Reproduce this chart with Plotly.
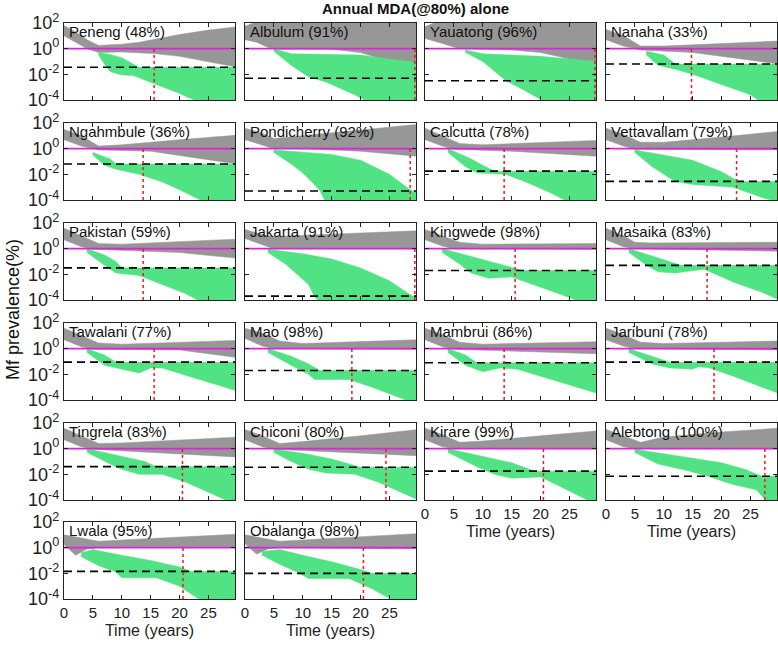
import plotly.graph_objects as go

SITES = ["Peneng", "Albulum", "Yauatong", "Nanaha", "Ngahmbule", "Pondicherry",
         "Calcutta", "Vettavallam", "Pakistan", "Jakarta", "Kingwede", "Masaika",
         "Tawalani", "Mao", "Mambrui", "Jaribuni", "Tingrela", "Chiconi", "Kirare",
         "Alebtong", "Lwala", "Obalanga"]
COVERAGE = [48, 91, 96, 33, 36, 92, 78, 79, 59, 91, 98, 83, 77, 98, 86, 78, 83, 80,
            99, 100, 95, 98]
# log10 of the elimination threshold (dashed line)
THRESH_EXP = [-1.45, -2.3, -2.5, -1.2, -1.2, -3.3, -1.75, -2.55, -1.5, -3.7, -1.7, -1.3,
              -1.05, -1.7, -1.1, -1.05, -1.4, -1.45, -1.75, -2.15, -1.85, -2.0]
# year at which the threshold is reached (red dotted line)
STOP_YEAR = [15.6, 29.4, 29.4, 14.8, 13.7, 28.6, 13.7, 22.6, 13.7, 29.4, 15.6, 17.5,
             15.6, 18.5, 13.7, 18.7, 20.5, 24.4, 20.5, 27.5, 20.6, 20.5]
X_TICKS = [0, 5, 10, 15, 20, 25]
Y_TICKS = [1e-4, 1e-2, 1, 1e2]
Y_TICK_TEXT = ["10<sup>-4</sup>", "10<sup>-2</sup>", "10<sup>0</sup>", "10<sup>2</sup>"]

# envelopes (year, log10 Mf prevalence) of the non-eliminating (grey) runs
GREY_UP = [
    [(0, 1.8), (2, 1.3), (4, 0.7), (6, 0.25), (8, 0.3), (10, 0.35), (13, 0.5), (16, 0.75), (20, 1.1), (25, 1.45), (30, 1.7)],
    [(0, 1.75), (2, 2.1), (30, 2.1)],
    [(0, 1.7), (2, 2.1), (30, 2.1)],
    [(0, 1.5), (3, 1.0), (6, 0.2), (10, 0.2), (15, 0.3), (20, 0.4), (30, 0.6)],
    [(0, 1.5), (3, 1.0), (6, 0.2), (10, 0.3), (20, 0.7), (30, 1.05)],
    [(0, 1.6), (3, 1.2), (5, 0.8), (10, 1.0), (20, 1.45), (30, 1.9)],
    [(0, 1.6), (3, 1.0), (6, 0.4), (10, 0.3), (20, 0.45), (30, 0.65)],
    [(0, 1.6), (3, 1.1), (6, 0.5), (10, 0.5), (20, 0.9), (30, 1.35)],
    [(0, 1.6), (3, 1.0), (6, 0.4), (10, 0.35), (20, 0.55), (30, 0.75)],
    [(0, 1.5), (3, 1.1), (5, 0.95), (10, 1.05), (20, 1.25), (30, 1.4)],
    [(0, 1.5), (3, 1.0), (6, 0.5), (10, 0.35), (20, 0.35), (30, 0.4)],
    [(0, 1.6), (3, 1.0), (5, 0.5), (8, 0.45), (30, 0.5)],
    [(0, 1.6), (3, 1.0), (6, 0.45), (10, 0.35), (20, 0.5), (30, 0.65)],
    [(0, 1.6), (3, 1.2), (6, 0.6), (10, 0.4), (20, 0.55), (30, 0.7)],
    [(0, 1.6), (3, 1.1), (6, 0.5), (10, 0.35), (20, 0.45), (30, 0.55)],
    [(0, 1.6), (3, 1.1), (6, 0.5), (10, 0.4), (20, 0.5), (30, 0.6)],
    [(0, 1.6), (3, 1.0), (6, 0.4), (10, 0.45), (20, 0.7), (30, 0.9)],
    [(0, 1.5), (3, 1.0), (6, 0.4), (10, 0.55), (20, 1.0), (30, 1.5)],
    [(0, 1.6), (3, 1.1), (6, 0.5), (10, 0.6), (20, 1.0), (30, 1.4)],
    [(0, 1.5), (3, 1.0), (6, 0.5), (10, 0.9), (20, 1.3), (30, 1.6)],
    [(0, 1.0), (3, 0.75), (6, 0.5), (10, 0.6), (20, 0.85), (30, 1.05)],
    [(0, 1.0), (3, 0.75), (6, 0.5), (10, 0.6), (20, 0.85), (30, 1.1)],
]
GREY_LO = [
    [(0, 1.0), (2, 0.5), (4, 0.0), (6, -0.3), (10, -0.25), (13, -0.3), (16, -0.4), (20, -0.6), (25, -1.0), (30, -1.45)],
    [(0, 0.7), (2, 0.5), (4, 0.1), (6, -0.05), (15, -0.05), (20, -0.3), (25, -1.0), (30, -1.9)],
    [(0, 0.8), (3, 0.4), (6, 0.0), (15, -0.1), (20, -0.3), (25, -0.8), (30, -1.5)],
    [(0, 0.7), (3, 0.2), (6, -0.1), (15, -0.3), (20, -0.6), (30, -1.2)],
    [(0, 0.7), (3, 0.2), (6, -0.1), (15, -0.2), (30, -1.2)],
    [(0, 0.7), (3, 0.3), (5, 0.0), (10, 0.0), (20, -0.2), (30, -0.6)],
    [(0, 0.7), (3, 0.2), (5, -0.05), (15, -0.2), (30, -0.6)],
    [(0, 0.7), (3, 0.2), (5, -0.05), (30, -0.1)],
    [(0, 0.7), (3, 0.15), (5, -0.05), (20, -0.3), (30, -0.75)],
    [(0, 0.8), (3, 0.3), (5, 0.0), (30, 0.0)],
    [(0, 0.7), (3, 0.2), (5, 0.0), (30, -0.05)],
    [(0, 0.7), (3, 0.15), (5, 0.0), (30, -0.2)],
    [(0, 0.7), (3, 0.15), (5, -0.05), (20, -0.1), (30, -0.7)],
    [(0, 0.8), (3, 0.2), (5, 0.0), (30, -0.05)],
    [(0, 0.7), (3, 0.15), (5, -0.05), (30, -0.4)],
    [(0, 0.7), (3, 0.2), (5, 0.0), (30, -0.1)],
    [(0, 0.7), (3, 0.15), (5, -0.05), (30, -0.65)],
    [(0, 0.7), (3, 0.15), (5, -0.05), (30, -0.55)],
    [(0, 0.7), (3, 0.15), (5, 0.0), (30, 0.0)],
    [(0, 0.7), (3, 0.15), (5, 0.0), (30, 0.0)],
    [(0, 0.25), (2, -0.6), (4, -0.1), (6, 0.0), (30, 0.0)],
    [(0, 0.3), (2, -0.5), (4, -0.1), (6, 0.0), (30, -0.1)],
]
# envelopes of the eliminating (green) runs
GREEN_UP = [
    [(6, -0.3), (8, -0.45), (10, -0.7), (12, -1.2), (13, -1.45), (30, -1.45)],
    [(5, 0.0), (8, -0.4), (15, -0.45), (20, -0.5), (25, -0.8), (30, -1.1)],
    [(7, -0.1), (10, -0.4), (15, -0.5), (20, -0.6), (25, -0.8), (30, -1.0)],
    [(7, -0.2), (10, -0.5), (12, -1.2), (30, -1.2)],
    [(5, -0.3), (8, -0.8), (9, -1.2), (30, -1.2)],
    [(5, -0.1), (10, -0.3), (15, -0.45), (20, -0.9), (25, -2.0), (28, -3.0), (29, -3.3), (30, -3.3)],
    [(4, 0.0), (8, -0.8), (10, -1.3), (12, -1.75), (30, -1.75)],
    [(5, -0.1), (10, -0.5), (15, -0.9), (20, -1.8), (23, -2.55), (30, -2.55)],
    [(4, 0.0), (7, -0.5), (9, -1.0), (10, -1.5), (30, -1.5)],
    [(4, -0.05), (10, -0.4), (15, -0.8), (20, -1.5), (25, -2.5), (29, -3.7), (30, -3.7)],
    [(3, 0.0), (8, -0.6), (12, -1.1), (15, -1.5), (17, -1.7), (30, -1.7)],
    [(4, 0.0), (8, -0.6), (11, -1.0), (13, -1.3), (30, -1.3)],
    [(4, 0.0), (7, -0.5), (9, -1.05), (30, -1.05)],
    [(4, 0.0), (8, -0.6), (11, -1.2), (13, -1.7), (30, -1.7)],
    [(4, 0.0), (7, -0.5), (9, -1.1), (30, -1.1)],
    [(4, 0.0), (8, -0.6), (11, -1.05), (30, -1.05)],
    [(4, 0.0), (10, -0.6), (14, -1.0), (16, -1.4), (30, -1.4)],
    [(5, -0.05), (10, -0.35), (15, -0.8), (18, -1.2), (20, -1.45), (30, -1.45)],
    [(4, 0.0), (10, -0.6), (15, -1.1), (19, -1.75), (30, -1.75)],
    [(5, -0.05), (10, -0.4), (15, -0.8), (20, -1.1), (24, -1.6), (27, -2.15), (30, -2.15)],
    [(3, -0.4), (5, -0.15), (10, -0.6), (15, -1.0), (20, -1.5), (22, -1.85), (30, -1.85)],
    [(3, -0.3), (6, -0.15), (10, -0.6), (15, -1.1), (20, -1.7), (22, -2.0), (30, -2.0)],
]
GREEN_LO = [
    [(6, -0.5), (7, -1.2), (8, -1.8), (10, -2.05), (12, -2.1), (16, -2.8), (20, -3.5), (23.5, -4.2), (30, -4.2)],
    [(5, -0.2), (8, -1.3), (11, -2.2), (14, -2.6), (19, -3.6), (21.5, -4.2), (30, -4.2)],
    [(7, -0.3), (10, -1.0), (14, -2.5), (17, -3.2), (21, -4.2), (30, -4.2)],
    [(7, -0.5), (9, -1.3), (12, -1.6), (15, -2.0), (20, -2.8), (25, -3.6), (27, -4.2), (30, -4.2)],
    [(5, -0.5), (7, -1.3), (9, -1.6), (13, -2.0), (17, -2.6), (20, -3.2), (24.5, -4.2), (30, -4.2)],
    [(5, -0.3), (8, -1.2), (10, -1.9), (12, -2.8), (13, -3.3), (14, -4.2), (30, -4.2)],
    [(4, -0.3), (7, -1.4), (9, -1.9), (14, -2.0), (18, -2.7), (22, -3.5), (25, -4.2), (30, -4.2)],
    [(5, -0.3), (8, -1.4), (10, -2.0), (12, -2.55), (15, -2.8), (22, -3.0), (27, -3.8), (30, -4.2)],
    [(4, -0.3), (7, -1.3), (9, -1.9), (13, -2.1), (17, -2.8), (21, -3.5), (24, -4.2), (30, -4.2)],
    [(4, -0.3), (7, -1.2), (9, -2.0), (11, -2.8), (12, -3.7), (13, -4.2), (30, -4.2)],
    [(3, -0.3), (6, -1.2), (8, -1.9), (11, -2.3), (15, -2.2), (20, -3.0), (25, -3.8), (27, -4.2), (30, -4.2)],
    [(4, -0.3), (7, -1.3), (9, -1.8), (12, -1.9), (15, -1.7), (17, -1.6), (22, -2.6), (27, -3.4), (30, -4.0)],
    [(4, -0.3), (7, -1.3), (10, -1.6), (13, -1.9), (15, -1.5), (17, -1.5), (22, -2.2), (27, -2.9), (30, -3.3)],
    [(4, -0.3), (8, -1.3), (11, -2.0), (12, -2.4), (18, -2.4), (22, -3.0), (26, -3.7), (29, -4.2), (30, -4.2)],
    [(4, -0.3), (7, -1.3), (10, -1.8), (13, -1.5), (16, -1.6), (22, -2.4), (27, -3.1), (30, -3.5)],
    [(4, -0.3), (8, -1.2), (11, -1.5), (15, -1.6), (16, -1.4), (18, -1.5), (23, -2.3), (27, -3.0), (30, -3.5)],
    [(4, -0.3), (8, -1.2), (10, -1.6), (13, -2.0), (17, -2.0), (21, -2.6), (25, -3.4), (29, -4.2), (30, -4.2)],
    [(5, -0.3), (8, -1.0), (11, -1.6), (14, -1.9), (19, -2.0), (23, -2.6), (27, -3.4), (30, -4.0)],
    [(4, -0.3), (9, -1.4), (12, -2.0), (15, -2.3), (20, -2.2), (25, -3.3), (29, -4.2), (30, -4.2)],
    [(5, -0.3), (9, -1.2), (14, -1.7), (18, -2.2), (22, -2.8), (26, -3.2), (28, -4.2), (30, -4.2)],
    [(3, -0.7), (6, -1.4), (9, -1.9), (10, -2.35), (16, -2.35), (20, -3.0), (24, -4.2), (30, -4.2)],
    [(3, -0.6), (6, -1.3), (9, -1.9), (11, -2.4), (18, -2.4), (22, -3.2), (26, -4.2), (30, -4.2)],
]

GREY = "#979797"
GREEN = "#50e283"
MAGENTA = "#e020e0"
FONT = "Liberation Sans, Arial, Helvetica, sans-serif"

W, H = 778, 650
COL_LEFT = [64, 245, 425, 606]
ROW_TOP = [23, 123, 223, 323, 423, 522]
PW, PH = 171, 77
XMAX = 29.6

fig = go.Figure()


def band(up, lo):
    xs = [p[0] for p in up] + [p[0] for p in reversed(lo)]
    ys = [10 ** p[1] for p in up] + [10 ** p[1] for p in reversed(lo)]
    return xs + [xs[0]], ys + [ys[0]]


def px(x):
    return x / W


def py(y):
    return 1 - y / H


layout_axes = {}
annotations = []
for i, site in enumerate(SITES):
    r, c = divmod(i, 4)
    n = "" if i == 0 else str(i + 1)
    xa, ya = "x" + n, "y" + n
    left, top = COL_LEFT[c], ROW_TOP[r]
    bottom_panel = (r == 5) or (r == 4 and c >= 2)

    gx, gy = band(GREY_UP[i], GREY_LO[i])
    fig.add_trace(go.Scatter(x=gx, y=gy, fill="toself", fillcolor=GREY, mode="lines",
                             line=dict(width=0.5, color=GREY), xaxis=xa, yaxis=ya,
                             hoverinfo="skip", showlegend=False))
    ex, ey = band(GREEN_UP[i], GREEN_LO[i])
    fig.add_trace(go.Scatter(x=ex, y=ey, fill="toself", fillcolor=GREEN, mode="lines",
                             line=dict(width=0.5, color=GREEN), xaxis=xa, yaxis=ya,
                             hoverinfo="skip", showlegend=False))
    thr = 10 ** THRESH_EXP[i]
    fig.add_trace(go.Scatter(x=[0, XMAX], y=[thr, thr], mode="lines",
                             line=dict(color="black", width=1.6, dash="8px,5px"),
                             xaxis=xa, yaxis=ya, hoverinfo="skip", showlegend=False))
    fig.add_trace(go.Scatter(x=[0, XMAX], y=[1, 1], mode="lines",
                             line=dict(color=MAGENTA, width=1.6),
                             xaxis=xa, yaxis=ya, hoverinfo="skip", showlegend=False))
    fig.add_trace(go.Scatter(x=[STOP_YEAR[i], STOP_YEAR[i]], y=[1e-4, 1], mode="lines",
                             line=dict(color="#ee1c1c", width=1.5, dash="dot"),
                             xaxis=xa, yaxis=ya, hoverinfo="skip", showlegend=False))

    xkey = "xaxis" + n
    ykey = "yaxis" + n
    layout_axes[xkey] = dict(
        domain=[px(left), px(left + PW)], anchor=ya, range=[0, XMAX], automargin=False,
        tickvals=X_TICKS, showticklabels=bottom_panel, ticks="inside", ticklen=4,
        tickcolor="#222", showline=True, linecolor="#222", linewidth=1.2, mirror="ticks",
        showgrid=False, zeroline=False, tickfont=dict(size=15, color="#222", family=FONT),
        title=dict(text="Time (years)" if bottom_panel else "", standoff=4,
                   font=dict(size=16, color="#222", family=FONT)),
    )
    layout_axes[ykey] = dict(
        domain=[py(top + PH), py(top)], anchor=xa, type="log", range=[-4, 2],
        automargin=False,
        tickvals=Y_TICKS, ticktext=Y_TICK_TEXT, showticklabels=(c == 0),
        ticks="inside", ticklen=4, tickcolor="#222", showline=True, linecolor="#222",
        linewidth=1.2, mirror="ticks", showgrid=False, zeroline=False,
        tickfont=dict(size=18, color="#222", family=FONT),
    )
    annotations.append(dict(
        text=f"{site} ({COVERAGE[i]}%)", xref=xa + " domain", yref=ya + " domain",
        x=0.02, y=1.02, xanchor="left", yanchor="top", showarrow=False,
        font=dict(size=15, color="#111", family=FONT)))

annotations.append(dict(text="<b>Annual MDA(@80%) alone</b>", xref="paper", yref="paper",
                        x=px(415), y=py(9), xanchor="center", yanchor="middle",
                        showarrow=False, font=dict(size=15, color="#111", family=FONT)))
annotations.append(dict(text="Mf prevalence(%)", xref="paper", yref="paper",
                        x=px(13), y=py(310), xanchor="center", yanchor="middle",
                        textangle=-90, showarrow=False,
                        font=dict(size=18, color="#111", family=FONT)))

fig.update_layout(width=W, height=H, margin=dict(l=0, r=0, t=0, b=0),
                  paper_bgcolor="white", plot_bgcolor="white",
                  annotations=annotations, showlegend=False, **layout_axes)

fig.write_html("out.html", config={"displayModeBar": False},
               post_script="document.body.style.margin='0px';")
